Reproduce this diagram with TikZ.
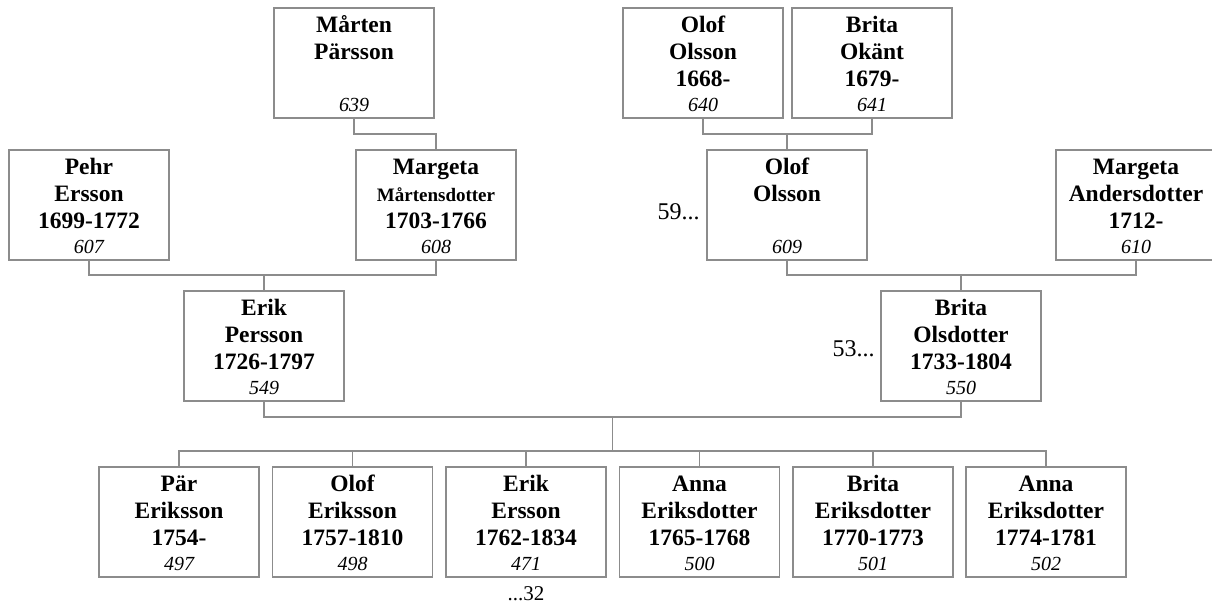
\documentclass[tikz,border=0pt]{standalone}
\usepackage{fontspec}
\setmainfont{Liberation Serif}
\usetikzlibrary{calc}
\definecolor{rand}{RGB}{140,140,140}
% one person: box, name lines, number
\newcommand{\person}[5]{%
  \node[box] (#1) at (#2,#3) {};
  \node[namn] (#1n) at ([yshift=-2.55pt]#1.north) {\strut#4};
  \node[nr] (#1nr) at ([yshift=3pt]#1.south) {#5};}
\newcommand{\liten}[1]{{\fontsize{9.5}{13.5}\selectfont #1}}

\begin{document}
\begin{tikzpicture}[x=0.5pt,y=-0.5pt,
  box/.style={draw=rand,line width=0.7pt,minimum width=80pt,minimum height=55pt,inner sep=0pt,outer sep=0pt},
  namn/.style={anchor=north,align=center,inner sep=0pt,font=\bfseries\fontsize{11.75}{13.5}\selectfont},
  nr/.style={anchor=base,inner sep=0pt,font=\itshape\fontsize{10}{12}\selectfont},
  side/.style={anchor=base east,inner sep=0pt,font=\fontsize{12}{14}\selectfont},
  link/.style={draw=rand,line width=0.7pt}]
\useasboundingbox (0,0) rectangle (1212,603);
% far- och morföräldrars föräldrar
\person{p639}{354}{63}{Mårten\\Pärsson}{639}
\person{p640}{703}{63}{Olof\\Olsson\\1668-}{640}
\person{p641}{872}{63}{Brita\\Okänt\\1679-}{641}
% far- och morföräldrar
\person{p607}{89}{205}{Pehr\\Ersson\\1699-1772}{607}
\person{p608}{436}{205}{Margeta\\\liten{Mårtensdotter}\\1703-1766}{608}
\person{p609}{787}{205}{Olof\\Olsson}{609}
\person{p610}{1136}{205}{Margeta\\Andersdotter\\1712-}{610}
% föräldrar
\person{p549}{264}{346}{Erik\\Persson\\1726-1797}{549}
\person{p550}{961}{346}{Brita\\Olsdotter\\1733-1804}{550}
% barn
\person{p497}{179}{522}{Pär\\Eriksson\\1754-}{497}
\person{p498}{352.5}{522}{Olof\\Eriksson\\1757-1810}{498}
\person{p471}{526}{522}{Erik\\Ersson\\1762-1834}{471}
\person{p500}{699.5}{522}{Anna\\Eriksdotter\\1765-1768}{500}
\person{p501}{873}{522}{Brita\\Eriksdotter\\1770-1773}{501}
\person{p502}{1046}{522}{Anna\\Eriksdotter\\1774-1781}{502}
% hänvisningar
\node[side] (ref59) at ([xshift=-3.5pt,yshift=-7.5pt]p609.west) {59...};
\node[side] (ref53) at ([xshift=-3pt,yshift=-5.5pt]p550.west) {53...};
\node[nr,font=\fontsize{10.5}{12}\selectfont] (ref32) at ([yshift=-12pt]p471.south) {...32};
% linjer
\draw[link] (p639.south) -- ++(0,16) -| (p608.north);
\draw[link] (p640.south) -- ++(0,16) -| (p641.south);
\draw[link] (p609.north) -- ++(0,-16);
\draw[link] (p607.south) -- ++(0,15) -| (p608.south);
\draw[link] (p609.south) -- ++(0,15) -| (p610.south);
\draw[link] (p549.north) -- ++(0,-16);
\draw[link] (p550.north) -- ++(0,-16);
\draw[link] (p549.south) -- ++(0,16) -| (p550.south);
\draw[link] ($(p549.south)!.5!(p550.south)$) ++(0,16) -- ++(0,34);
\draw[link] (p497.north) -- ++(0,-16) -| (p502.north);
\foreach \b in {p498,p471,p500,p501}
  \draw[link] (\b.north) -- ++(0,-16);
\end{tikzpicture}
\end{document}
